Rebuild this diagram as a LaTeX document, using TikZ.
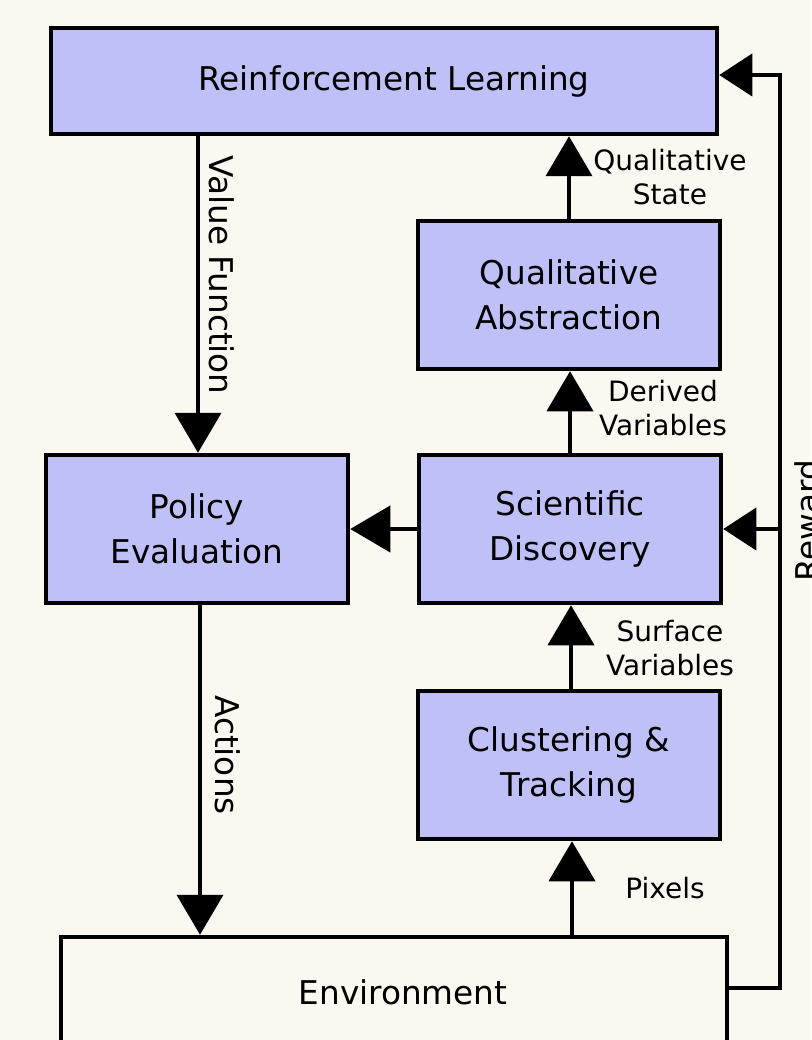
\documentclass[tikz,border=0pt]{standalone}
\usepackage{fontspec}
\setmainfont{DejaVu Sans}
\usetikzlibrary{arrows.meta}
\definecolor{bgc}{RGB}{251,248,242}
\definecolor{boxc}{RGB}{192,192,248}
\tikzset{
  blk/.style={draw=black, line width=4.5pt, fill=boxc, minimum width=302pt, minimum height=148pt,
    inner sep=0pt, align=center, font=\fontsize{32.7}{45}\selectfont},
  widebox/.style={blk, minimum width=666pt, minimum height=106pt},
  envbox/.style={blk, minimum width=666pt, fill=bgc, minimum height=110pt},
  conn/.style={line width=4pt, -{Triangle[width=46pt,length=40pt]}},
  rconn/.style={line width=4pt, -{Triangle[width=42pt,length=33pt]}},
  lbl/.style={align=center, font=\fontsize{28}{34}\selectfont, inner sep=0pt},
  vlbl/.style={font=\fontsize{32.7}{40}\selectfont, inner sep=0pt, anchor=base},
}
\begin{document}
\begin{tikzpicture}[x=1pt,y=-1pt]
\fill[bgc] (0,0) rectangle (811,1040);
\useasboundingbox (0,0) rectangle (811,1040);
\clip (0,0) rectangle (811,1040);

% boxes
\node[widebox] (rl) at (384,81) {\hspace*{20pt}Reinforcement Learning};
\node[blk] (qa) at (569,295) {Qualitative\\Abstraction};
\node[blk] (pe) at (197,529) {Policy\\Evaluation};
\node[blk] (sd) at (570,529) {Scientific\\Discovery};
\node[blk] (ct) at (569,765) {Clustering \&\\Tracking};
\node[envbox] (env) at (394,992) {\hspace*{18pt}Environment};

% column coordinates
\coordinate (cvf) at (198,0);
\coordinate (cac) at (200,0);
\coordinate (cqs) at (569,0);
\coordinate (cdv) at (570,0);
\coordinate (csv) at (571,0);
\coordinate (cpx) at (572,0);
\coordinate (rbot) at (780,988);
\coordinate (rtop) at (780,75);
\coordinate (rmid) at (780,529);

% connectors
\draw[conn] (cvf |- rl.south) -- (cvf |- pe.north);
\draw[conn] (cac |- pe.south) -- (cac |- env.north);
\draw[conn] (cqs |- qa.north) -- (cqs |- rl.south);
\draw[conn] (cdv |- sd.north) -- (cdv |- qa.south);
\draw[conn] (csv |- ct.north) -- (csv |- sd.south);
\draw[conn] (cpx |- env.north) -- (cpx |- ct.south);
\draw[conn] (sd.west) -- (pe.east);
\draw[rconn] (env.east |- rbot) -- (rbot) -- (rtop) -- (rl.east |- rtop);
\draw[rconn] (rmid) -- (sd.east);

% labels
\node[vlbl, rotate=-90] (lvf) at (209,275) {Value Function};
\node[vlbl, rotate=-90] (lac) at (215,755) {Actions};
\node[vlbl, rotate=90] (lrw) at (819,521) {Reward};
\node[lbl] (lqs) at (670,177) {Qualitative\\State};
\node[lbl] (ldv) at (663,408) {Derived\\Variables};
\node[lbl] (lsv) at (670,648) {Surface\\Variables};
\node[lbl] (lpx) at (665,888) {Pixels};
\end{tikzpicture}
\end{document}
